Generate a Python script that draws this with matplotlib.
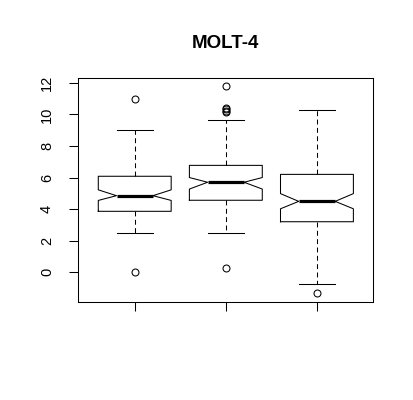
import matplotlib
matplotlib.use("Agg")
import matplotlib.pyplot as plt

# values (R-style notched boxplot)
groups = ["1", "2", "3"]
med = [4.85, 5.70, 4.49]
q1 = [3.86, 4.56, 3.20]
q3 = [6.08, 6.77, 6.20]
whislo = [2.47, 2.47, -0.76]
whishi = [8.99, 9.62, 10.25]
cilo = [4.55, 5.27, 4.02]
cihi = [5.22, 6.00, 4.98]
fliers = [
    [10.95, 0.0],
    [11.77, 10.42, 10.32, 10.22, 10.12, 0.25],
    [-1.33],
]
yticks = [0, 2, 4, 6, 8, 10, 12]
title = "MOLT-4"

plt.rcParams["font.family"] = ["Liberation Sans", "DejaVu Sans"]

fig = plt.figure(figsize=(4.14, 4.00), dpi=100)
ax = fig.add_axes([0.189, 0.246, 0.713, 0.558])

stats = []
for i in range(len(groups)):
    stats.append(dict(label=groups[i], med=med[i], q1=q1[i], q3=q3[i],
                      whislo=whislo[i], whishi=whishi[i],
                      cilo=cilo[i], cihi=cihi[i], fliers=fliers[i]))

lw = 0.75
ax.bxp(
    stats,
    positions=[1, 2, 3],
    widths=0.8,
    capwidths=0.4,
    shownotches=True,
    boxprops=dict(color="black", linewidth=lw),
    whiskerprops=dict(color="black", linewidth=lw, linestyle=(0, (4.7, 3.3))),
    capprops=dict(color="black", linewidth=lw),
    medianprops=dict(color="black", linewidth=2.3, solid_capstyle="butt"),
    flierprops=dict(marker="o", markerfacecolor="none", markeredgecolor="black",
                    markersize=5, markeredgewidth=lw, linestyle="none"),
)

ax.set_xlim(0.38, 3.62)
ax.set_ylim(-1.86, 12.28)
ax.set_xticks([1, 2, 3])
ax.set_xticklabels([])
ax.set_yticks(yticks)
ax.set_yticklabels([str(v) for v in yticks], rotation=90, va="center")
ax.tick_params(axis="both", direction="out", length=6.5, width=lw, colors="black",
               labelsize=10.5)
ax.tick_params(axis="y", pad=11)
for s in ax.spines.values():
    s.set_linewidth(lw)

ax.set_title(title, fontsize=13.5, fontweight="bold", pad=22)

fig.savefig("out.png", dpi=100)
